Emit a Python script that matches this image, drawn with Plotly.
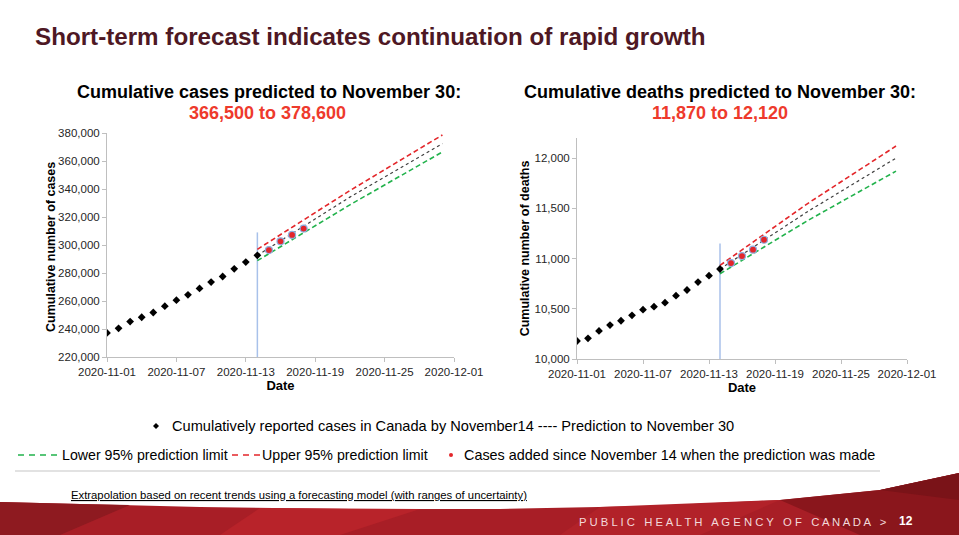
import plotly.graph_objects as go

W, H = 959, 535

# ---------------- data ----------------
obs_dates = ["2020-11-01", "2020-11-02", "2020-11-03", "2020-11-04", "2020-11-05",
             "2020-11-06", "2020-11-07", "2020-11-08", "2020-11-09", "2020-11-10",
             "2020-11-11", "2020-11-12", "2020-11-13", "2020-11-14"]
cases_obs = [237200, 240500, 245300, 248400, 251800, 256300, 260600, 264400,
             269000, 273500, 277500, 283000, 287800, 292600]
deaths_obs = [10179, 10206, 10279, 10338, 10381, 10435, 10491, 10521,
              10561, 10630, 10687, 10766, 10829, 10896]

new_dates = ["2020-11-15", "2020-11-16", "2020-11-17", "2020-11-18"]
cases_new = [296400, 302600, 307200, 311700]
deaths_new = [10955, 11025, 11088, 11187]

pred_dates = ["2020-11-14", "2020-11-22", "2020-11-30"]
cases_pred = [292600, 334200, 372400]
cases_lower = [288800, 328700, 366500]
cases_upper = [296900, 338900, 378600]
deaths_pred = [10896, 11470, 12000]
deaths_lower = [10849, 11380, 11870]
deaths_upper = [10932, 11550, 12120]

cut_date = ["2020-11-14", "2020-11-14"]
cases_cut = [220000, 309000]
deaths_cut = [10000, 11150]

x_range = ["2020-11-01", "2020-12-01"]
cases_range = [220000, 380000]
deaths_range = [10000, 12200]

# ---------------- style ----------------
FONT = "Liberation Sans, Arial, sans-serif"
BLACK = "#000000"
PRED = "#404040"
GREEN = "#22b24c"
RED = "#e3262a"
CUTC = "#a8c1ea"


def px(x):
    return x / W


def py(y):
    return 1 - y / H


fig = go.Figure()


def add_panel(xa, ya, obs, new, pred, lo, up, cut):
    fig.add_trace(go.Scatter(x=cut_date, y=cut, mode="lines", xaxis=xa, yaxis=ya,
                             line=dict(color=CUTC, width=1.5), showlegend=False, hoverinfo="skip"))
    fig.add_trace(go.Scatter(x=pred_dates, y=lo, mode="lines", xaxis=xa, yaxis=ya,
                             line=dict(color=GREEN, width=1.6, dash="5px,3px"), showlegend=False))
    fig.add_trace(go.Scatter(x=pred_dates, y=up, mode="lines", xaxis=xa, yaxis=ya,
                             line=dict(color=RED, width=1.6, dash="5px,3px"), showlegend=False))
    fig.add_trace(go.Scatter(x=pred_dates, y=pred, mode="lines", xaxis=xa, yaxis=ya,
                             line=dict(color=PRED, width=1.2, dash="3px,3px"), showlegend=False))
    fig.add_trace(go.Scatter(x=obs_dates, y=obs, mode="markers", xaxis=xa, yaxis=ya,
                             marker=dict(symbol="diamond", size=6, color=BLACK), showlegend=False))
    fig.add_trace(go.Scatter(x=new_dates, y=new, mode="markers", xaxis=xa, yaxis=ya,
                             marker=dict(symbol="circle", size=7, color=RED,
                                         line=dict(color="#8fb0e0", width=1.2)), showlegend=False))


add_panel("x", "y", cases_obs, cases_new, cases_pred, cases_lower, cases_upper, cases_cut)
add_panel("x2", "y2", deaths_obs, deaths_new, deaths_pred, deaths_lower, deaths_upper, deaths_cut)

axis_common = dict(showline=True, linecolor="#bfbfbf", linewidth=1, ticks="outside",
                   tickcolor="#bfbfbf", ticklen=4, showgrid=False, zeroline=False, automargin=False,
                   tickfont=dict(family=FONT, size=11.5, color="#262626"))
xcommon = dict(axis_common, type="date", range=x_range, tick0="2020-11-01",
               dtick=6 * 86400000, tickformat="%Y-%m-%d",
               title=dict(text="<b>Date</b>", font=dict(family=FONT, size=13, color="#000"), standoff=4))

fig.update_layout(
    width=W, height=H, margin=dict(l=0, r=0, t=0, b=0, pad=0, autoexpand=False),
    paper_bgcolor="white", plot_bgcolor="white",
    showlegend=False,
    xaxis=dict(xcommon, domain=[px(107), px(454)], anchor="y"),
    yaxis=dict(axis_common, domain=[py(357), py(133)], range=cases_range, dtick=20000,
               tickformat=",d", anchor="x"),
    xaxis2=dict(xcommon, domain=[px(577), px(907)], anchor="y2"),
    yaxis2=dict(axis_common, domain=[py(359), py(138)], range=deaths_range, dtick=500,
                tickvals=[10000, 10500, 11000, 11500, 12000],
                tickformat=",d", anchor="x2",
                title=dict(text="<b>Cumulative number of deaths</b>",
                           font=dict(family=FONT, size=12.5, color="#000"), standoff=2)),
)

ann = []
shapes = []


def text(x, y, s, size, color="#000", xanchor="left", bold=False, angle=0):
    ann.append(dict(x=px(x), y=py(y), xref="paper", yref="paper", text=("<b>%s</b>" % s) if bold else s,
                    showarrow=False, xanchor=xanchor, yanchor="middle", textangle=angle,
                    font=dict(family=FONT, size=size, color=color)))


# left y-axis title
text(51, 247, "Cumulative number of cases", 12.5, bold=True, xanchor="center", angle=-90)

# title and subtitles
text(33, 36, "Short-term forecast indicates continuation of rapid growth", 24.2, "#4e1824", bold=True)
text(269, 92, "Cumulative cases predicted to November 30:", 18, bold=True, xanchor="center")
text(267, 113, "366,500 to 378,600", 18, "#ee3a2c", bold=True, xanchor="center")
text(720, 92, "Cumulative deaths predicted to November 30:", 18, bold=True, xanchor="center")
text(720, 113, "11,870 to 12,120", 18, "#ee3a2c", bold=True, xanchor="center")

# legend
LY1, LY2 = 426, 455
shapes.append(dict(type="path", xref="paper", yref="paper",
                   path="M %f %f L %f %f L %f %f L %f %f Z" % (px(156), py(423), px(159), py(426),
                                                             px(156), py(429), px(153), py(426)),
                   fillcolor="#000", line=dict(width=0)))
text(170, LY1, "Cumulatively reported cases in Canada by November14 ---- Prediction to November 30", 14.6)


def dashes(x0, x1, y, color):
    shapes.append(dict(type="line", xref="paper", yref="paper", x0=px(x0), x1=px(x1), y0=py(y), y1=py(y),
                       line=dict(color=color, width=1.6, dash="6px,5px")))


dashes(18, 60, LY2, GREEN)
text(60, LY2, "Lower 95% prediction limit", 14.2)
dashes(232, 262, LY2, RED)
text(260, LY2, "Upper 95% prediction limit", 14.2)
shapes.append(dict(type="circle", xref="paper", yref="paper", x0=px(449), x1=px(453), y0=py(457), y1=py(453),
                   fillcolor=RED, line=dict(width=0)))
text(462, LY2, "Cases added since November 14 when the prediction was made", 14.4)

# footer
shapes.append(dict(type="line", xref="paper", yref="paper", x0=px(15), x1=px(880), y0=py(471), y1=py(471),
                   line=dict(color="#d9d9d9", width=1.5)))
text(69, 495, "<u>Extrapolation based on recent trends using a forecasting model (with ranges of uncertainty)</u>", 11.3)


def poly(points, color):
    p = "M " + " L ".join("%f %f" % (px(a), py(b)) for a, b in points) + " Z"
    shapes.append(dict(type="path", xref="paper", yref="paper", path=p, fillcolor=color,
                       line=dict(width=0), layer="above"))


band_top = [(0, 502), (80, 504), (200, 507), (350, 509), (500, 509), (650, 506), (780, 500),
            (880, 490), (959, 473)]
poly(band_top + [(959, 535), (0, 535)], "#a81e26")
poly([(0, 502), (80, 504), (130, 505), (60, 535), (0, 535)], "#8e1a20")
poly([(260, 508), (420, 509), (340, 535), (220, 535)], "#b8232a")
poly([(600, 507), (780, 500), (700, 535), (560, 535)], "#b22229")
poly([(780, 500), (880, 490), (959, 473), (959, 535), (860, 535)], "#8a161c")
poly([(880, 490), (959, 473), (959, 500)], "#7a1318")

text(577, 522, "P U B L I C   H E A L T H   A G E N C Y   O F   C A N A D A   >", 11.3, "#f3d9da")
text(897, 521, "12", 12, "#ffffff", bold=True)

fig.update_layout(annotations=ann, shapes=shapes)

fig.write_html("out.html", config={"displayModeBar": False},
               post_script="document.body.style.margin='0';document.body.style.overflow='hidden';")
